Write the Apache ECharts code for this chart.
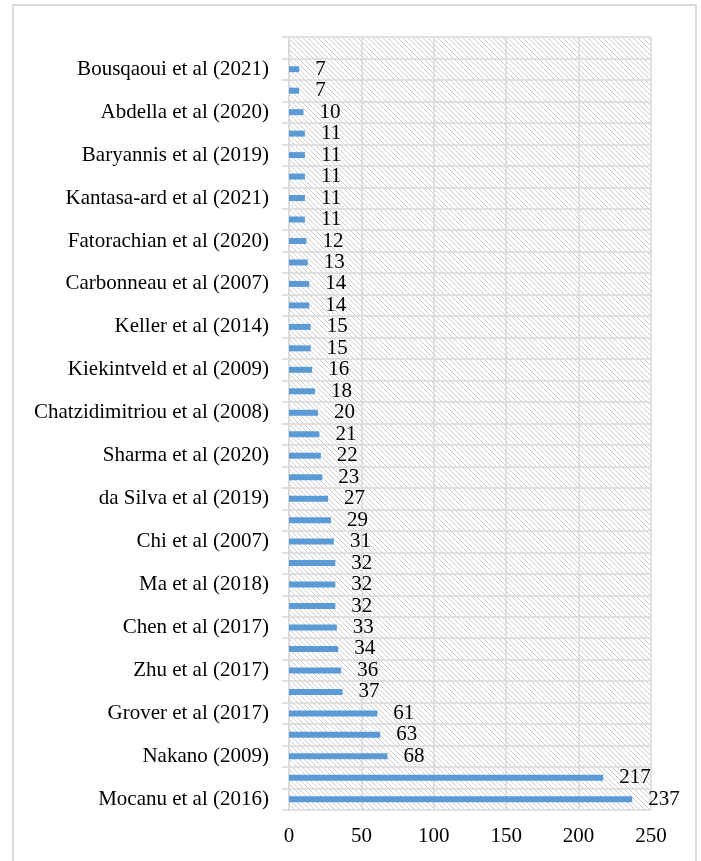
<!DOCTYPE html>
<html>
<head>
<meta charset="utf-8">
<script src="https://cdn.jsdelivr.net/npm/echarts@6/dist/echarts.min.js"></script>
<style>
  html, body { margin: 0; padding: 0; background: #fff; }
  #chart { width: 701px; height: 861px; }
</style>
</head>
<body>
<div id="chart"></div>
<script>
// Studies, listed bottom to top; only every other name is printed on the axis
const categories = [
  'Mocanu et al (2016)', '',
  'Nakano (2009)', '',
  'Grover et al (2017)', '',
  'Zhu et al (2017)', '',
  'Chen et al (2017)', '',
  'Ma et al (2018)', '',
  'Chi et al (2007)', '',
  'da Silva et al (2019)', '',
  'Sharma et al (2020)', '',
  'Chatzidimitriou et al (2008)', '',
  'Kiekintveld et al (2009)', '',
  'Keller et al (2014)', '',
  'Carbonneau et al (2007)', '',
  'Fatorachian et al (2020)', '',
  'Kantasa-ard et al (2021)', '',
  'Baryannis et al (2019)', '',
  'Abdella et al (2020)', '',
  'Bousqaoui et al (2021)', ''
];

// Citation counts, same order as categories (top row is empty)
const citations = [
  237, 217, 68, 63, 61, 37, 36, 34, 33, 32, 32, 32, 31, 29, 27, 23, 22, 21,
  20, 18, 16, 15, 15, 14, 14, 13, 12, 11, 11, 11, 11, 11, 10, 7, 7, null
];

const valueTicks = { min: 0, max: 250, interval: 50 };

// Diagonal hatch fill for the plot area
function hatchPattern() {
  const n = 5;
  const c = document.createElement('canvas');
  c.width = n; c.height = n;
  const ctx = c.getContext('2d');
  ctx.fillStyle = '#ffffff';
  ctx.fillRect(0, 0, n, n);
  ctx.fillStyle = '#cdcdcd';
  for (let i = 0; i < n; i++) ctx.fillRect(i, i, 1, 1);
  return { image: c, repeat: 'repeat' };
}

const font = '"Liberation Serif", "Times New Roman", serif';
const gridColor = '#d9d9d9';

const chart = echarts.init(document.getElementById('chart'), null, { renderer: 'canvas' });
chart.setOption({
  animation: false,
  backgroundColor: '#ffffff',
  graphic: [{
    type: 'rect',
    shape: { x: 13, y: 5, width: 683, height: 900 },
    style: { fill: 'none', stroke: gridColor, lineWidth: 2 },
    z: -10
  }],
  grid: {
    left: 289, right: 50, top: 37, bottom: 51,
    show: true,
    backgroundColor: hatchPattern(),
    borderWidth: 0
  },
  xAxis: {
    type: 'value',
    min: valueTicks.min,
    max: valueTicks.max,
    interval: valueTicks.interval,
    axisLine: { show: false },
    axisTick: { show: false },
    axisLabel: { fontFamily: font, fontSize: 21, color: '#000', margin: 16 },
    splitLine: { show: true, lineStyle: { color: gridColor, width: 1.5 } }
  },
  yAxis: {
    type: 'category',
    data: categories,
    axisLine: { show: true, lineStyle: { color: gridColor, width: 1.5 } },
    axisTick: { show: true, interval: 0, length: 7, lineStyle: { color: gridColor, width: 1.5 } },
    axisLabel: { interval: 0, fontFamily: font, fontSize: 21, color: '#000', margin: 20 },
    splitLine: { show: true, interval: 0, lineStyle: { color: gridColor, width: 1.5 } }
  },
  series: [{
    type: 'bar',
    data: citations,
    barWidth: 6,
    itemStyle: { color: '#5b9bd5' },
    label: {
      show: true,
      position: 'right',
      distance: 16,
      fontFamily: font,
      fontSize: 21,
      color: '#000'
    }
  }]
});
</script>
</body>
</html>
